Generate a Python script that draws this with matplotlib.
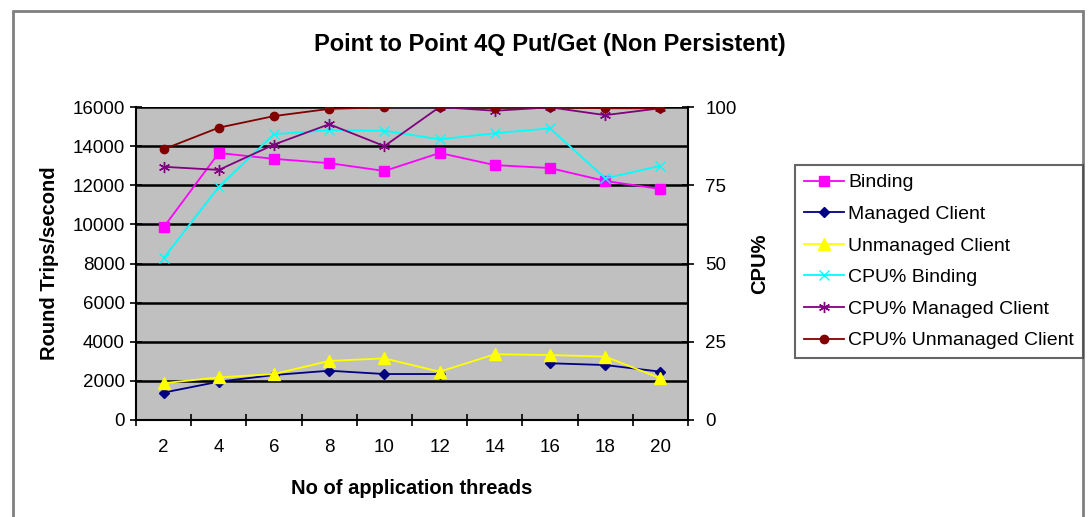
import matplotlib.pyplot as plt
import matplotlib.patches as patches
import numpy as np

plt.rcParams['font.family'] = ['Liberation Sans', 'DejaVu Sans']

threads = [2, 4, 6, 8, 10, 12, 14, 16, 18, 20]

# round trips/second (left axis)
binding = [9850, 13650, 13350, 13130, 12730, 13650, 13030, 12880, 12220, 11810]
managed = [1400, 1960, 2300, 2520, 2350, 2350, np.nan, 2900, 2810, 2470]
unmanaged = [1880, 2180, 2350, 3020, 3150, 2470, 3360, 3320, 3240, 2130]

# CPU % (right axis)
cpu_binding = [51.7, 74.5, 91.3, 92.6, 92.4, 89.7, 91.6, 93.2, 77.2, 81.2]
cpu_managed = [80.9, 79.9, 88.0, 94.5, 87.5, 100.0, 98.8, 99.9, 97.4, 99.6]
cpu_unmanaged = [86.5, 93.4, 97.1, 99.4, 99.9, 100.0, 99.8, 99.9, 99.6, 99.6]

fig = plt.figure(figsize=(10.91, 5.17), dpi=100)

# outer chart border
fig.patches.append(patches.Rectangle((13 / 1091, -0.02), 1070 / 1091, 1 - 11 / 517 + 0.02,
                                     transform=fig.transFigure, fill=False,
                                     edgecolor='#808080', linewidth=2))

ax = fig.add_axes([136 / 1091, 1 - 420 / 517, 552 / 1091, 313 / 517])
ax.set_facecolor('#C0C0C0')
x = np.arange(len(threads))

ax.plot(x, binding, color='#FF00FF', marker='s', markersize=7, linewidth=1.3, label='Binding', zorder=3)
ax.plot(x, managed, color='#000080', marker='D', markersize=5, linewidth=1.3, label='Managed Client', zorder=3)
ax.plot(x, unmanaged, color='#FFFF00', marker='^', markersize=8, linewidth=1.3, label='Unmanaged Client', zorder=3)

ax.set_xlim(-0.5, 9.5)
ax.set_ylim(0, 16000)
ax.set_yticks(np.arange(0, 16001, 2000))
ax.grid(axis='y', color='black', linewidth=1.8)
ax.set_axisbelow(True)

ax.set_xticks(np.arange(-0.5, 10, 1))
ax.set_xticklabels([])
ax.set_xticks(x, minor=True)
ax.set_xticklabels([str(t) for t in threads], minor=True)
ax.tick_params(axis='x', which='major', direction='inout', length=9, width=1.2)
ax.tick_params(axis='x', which='minor', length=0, pad=14, labelsize=13.5)
ax.tick_params(axis='y', direction='inout', length=9, width=1.2, labelsize=13.5)

for side in ['top', 'right']:
    ax.spines[side].set_visible(False)
ax.spines['left'].set_linewidth(1.5)
ax.spines['bottom'].set_linewidth(1.5)

ax.set_ylabel('Round Trips/second', fontsize=14.5, fontweight='bold', labelpad=10)
ax.set_xlabel('No of application threads', fontsize=14.5, fontweight='bold', labelpad=16)

ax2 = ax.twinx()
ax2.plot(x, cpu_binding, color='#00FFFF', marker='x', markersize=7, linewidth=1.3, label='CPU% Binding')
ax2.plot(x, cpu_managed, color='#800080', marker=(6, 2, 0), markersize=8, linewidth=1.3, label='CPU% Managed Client')
ax2.plot(x, cpu_unmanaged, color='#800000', marker='o', markersize=6, linewidth=1.3, label='CPU% Unmanaged Client')
ax2.set_ylim(0, 100)
ax2.set_yticks([0, 25, 50, 75, 100])
ax2.tick_params(axis='y', direction='inout', length=9, width=1.2, labelsize=13.5, pad=8)
for side in ['top', 'left', 'bottom']:
    ax2.spines[side].set_visible(False)
ax2.spines['right'].set_linewidth(1.5)
ax2.set_ylabel('CPU%', fontsize=14.5, fontweight='bold', labelpad=10)

fig.text(550 / 1091, 1 - 44 / 517, 'Point to Point 4Q Put/Get (Non Persistent)',
         ha='center', va='center', fontsize=17, fontweight='bold')

h1, l1 = ax.get_legend_handles_labels()
h2, l2 = ax2.get_legend_handles_labels()
leg = fig.legend(h1 + h2, l1 + l2, loc='upper left',
                 bbox_to_anchor=(795 / 1091, 1 - 165 / 517),
                 bbox_transform=fig.transFigure, fontsize=14, handlelength=2.05,
                 handletextpad=0.25, frameon=True, fancybox=False, edgecolor='#404040',
                 borderaxespad=0, labelspacing=0.72, borderpad=0.45)
leg.get_frame().set_linewidth(1.5)

fig.savefig('out.png', dpi=100)
